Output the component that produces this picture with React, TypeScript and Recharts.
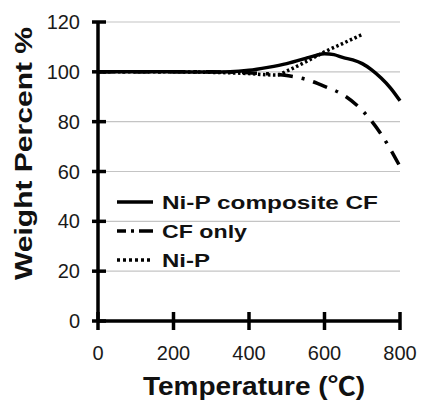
import React from 'react'
import { LineChart, Line, XAxis, YAxis, CartesianGrid } from 'recharts'

const FONT = '"Liberation Sans", Arial, "Noto Sans CJK JP", sans-serif'

const xTicks = [0, 200, 400, 600, 800]
const yTicks = [0, 20, 40, 60, 80, 100, 120]

const compositeTemps = [0, 100, 200, 300, 350, 400, 450, 500, 550, 575, 600, 625, 650, 675, 700, 725, 750, 775, 800]
const compositeWeight = [100, 100, 100, 99.9, 100, 100.6, 101.8, 103.3, 105.4, 106.5, 107.3, 106.9, 105.7, 104.8, 103.3, 100.8, 97.5, 93.5, 88.4]

const cfTemps = [0, 100, 200, 300, 400, 450, 500, 550, 600, 650, 700, 750, 800]
const cfWeight = [100, 100, 100, 100, 99.6, 99.2, 98.5, 97, 94.2, 90.7, 84.5, 75, 62]

const nipTemps = [0, 100, 200, 300, 400, 450, 475, 500, 550, 600, 650, 700]
const nipWeight = [100, 100, 100, 99.8, 99.3, 98.8, 98.7, 100.3, 104, 108, 111.5, 115]

const toRows = (temps: number[], weights: number[]) => temps.map((t, i) => ({ t, w: weights[i] }))

const series = [
  { name: 'Ni-P composite CF', rows: toRows(compositeTemps, compositeWeight), dash: undefined, legendDash: undefined, textLen: 216 },
  { name: 'CF only', rows: toRows(cfTemps, cfWeight), dash: '15 9 3 9', legendDash: '9 5 3 5 14', textLen: 85 },
  { name: 'Ni-P', rows: toRows(nipTemps, nipWeight), dash: '2.5 2.5', legendDash: '3 3', textLen: 48 },
]

const YTick = (props: any) => {
  const { x, y, payload } = props
  return (
    <g>
      <line x1={x - 6} x2={x + 8} y1={y} y2={y} stroke="#000" strokeWidth={3.5} />
      <text x={x - 18} y={y + 7} textAnchor="end" fontSize={20} fontFamily={FONT} fill="#1a1a1a">
        {payload.value}
      </text>
    </g>
  )
}

const XTick = (props: any) => {
  const { x, y, payload } = props
  return (
    <g>
      <line x1={x} x2={x} y1={y - 9} y2={y + 9} stroke="#000" strokeWidth={3.5} />
      <text x={x} y={y + 39} textAnchor="middle" fontSize={20} fontFamily={FONT} fill="#1a1a1a">
        {payload.value}
      </text>
    </g>
  )
}

const YTitle = (props: any) => {
  const { viewBox } = props
  const cx = viewBox.x + 32
  const cy = viewBox.y + viewBox.height / 2 - 18
  return (
    <text
      transform={`translate(${cx},${cy}) rotate(-90)`}
      textAnchor="middle"
      fontSize={23}
      fontWeight="bold"
      fontFamily={FONT}
      fill="#111"
      textLength={253}
      lengthAdjust="spacingAndGlyphs"
    >
      Weight Percent %
    </text>
  )
}

const XTitle = (props: any) => {
  const { viewBox } = props
  const cx = viewBox.x + viewBox.width / 2 + 5
  return (
    <text
      x={cx}
      y={395}
      textAnchor="middle"
      fontSize={25}
      fontWeight="bold"
      fontFamily={FONT}
      fill="#111"
      textLength={222}
      lengthAdjust="spacingAndGlyphs"
    >
      Temperature (℃)
    </text>
  )
}

const LegendBox = () => (
  <svg width={290} height={90}>
    {series.map((s, i) => {
      const cy = 17 + i * 29
      return (
        <g key={s.name}>
          <line x1={5} x2={41} y1={cy} y2={cy} stroke="#000" strokeWidth={3.5} strokeDasharray={s.legendDash} />
          <text
            x={50}
            y={cy + 7}
            fontSize={19}
            fontWeight="bold"
            fontFamily={FONT}
            fill="#111"
            textLength={s.textLen}
            lengthAdjust="spacingAndGlyphs"
          >
            {s.name}
          </text>
        </g>
      )
    })}
  </svg>
)

export default function App() {
  return (
    <div style={{ position: 'absolute', left: 0, top: 0, width: 421, height: 402, background: '#fff' }}>
      <LineChart width={421} height={402} margin={{ top: 22, right: 21, left: 0, bottom: 0 }}>
        <CartesianGrid horizontal vertical={false} stroke="#c4c4c4" strokeWidth={1.2} />
        <XAxis
          type="number"
          dataKey="t"
          domain={[0, 800]}
          ticks={xTicks}
          height={81}
          tickSize={0}
          tickMargin={0}
          axisLine={{ stroke: '#000', strokeWidth: 3.5 }}
          tickLine={false}
          tick={<XTick />}
          label={<XTitle />}
          allowDuplicatedCategory={false}
        />
        <YAxis
          type="number"
          domain={[0, 120]}
          ticks={yTicks}
          width={98}
          tickSize={0}
          tickMargin={0}
          axisLine={{ stroke: '#000', strokeWidth: 3.5 }}
          tickLine={false}
          tick={<YTick />}
          label={<YTitle />}
        />
        {series.slice().reverse().map((s) => (
          <Line
            key={s.name}
            name={s.name}
            data={s.rows}
            dataKey="w"
            type="monotone"
            stroke="#000"
            strokeWidth={3.5}
            strokeDasharray={s.dash}
            dot={false}
            activeDot={false}
            isAnimationActive={false}
          />
        ))}
      </LineChart>
      <div style={{ position: 'absolute', left: 112, top: 185 }}>
        <LegendBox />
      </div>
    </div>
  )
}
